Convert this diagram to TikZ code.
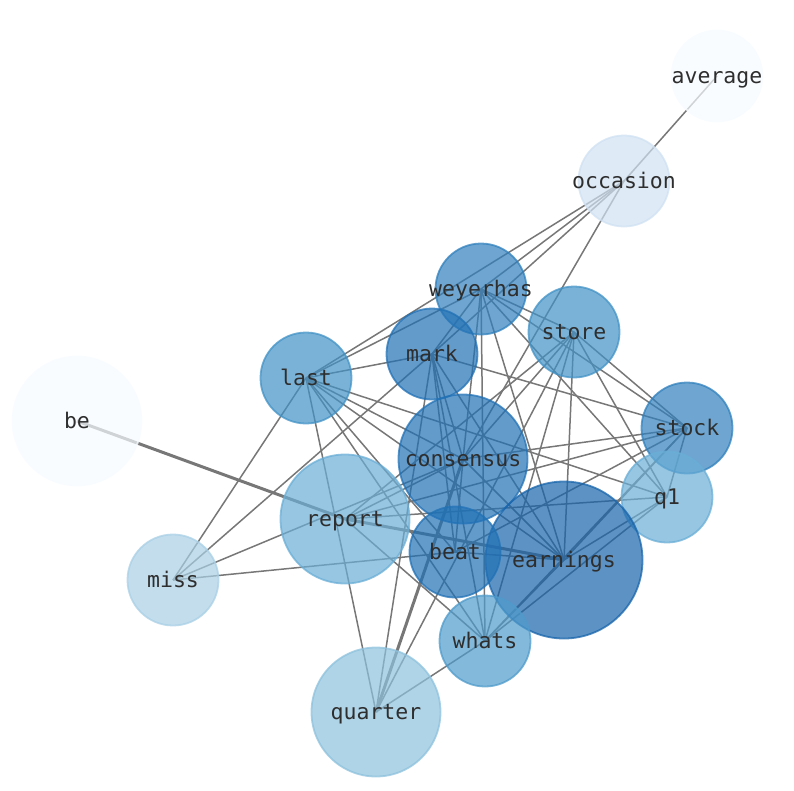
\documentclass[tikz,border=0pt]{standalone}
\usepackage{fontspec}
\setmonofont{DejaVu Sans Mono}
\usetikzlibrary{backgrounds}
\definecolor{cPale}{HTML}{F7FBFF}
\definecolor{cIce}{HTML}{D0E1F2}
\definecolor{cSky}{HTML}{A9CFE5}
\definecolor{cLight}{HTML}{8DC1DD}
\definecolor{cSoft}{HTML}{6AAED6}
\definecolor{cMid}{HTML}{4F9BCB}
\definecolor{cBlue}{HTML}{4292C6}
\definecolor{cDeep}{HTML}{3080BD}
\definecolor{cDark}{HTML}{2171B5}
\definecolor{cNavy}{HTML}{1764AB}
\definecolor{cEdge}{HTML}{777777}
\definecolor{cText}{HTML}{2E2E2E}
\tikzset{
  word/.style={circle, draw=#1, fill=#1, fill opacity=0.7, draw opacity=0.75,
               line width=1.8pt, inner sep=0pt},
  wlabel/.style={text=cText, text opacity=1, inner sep=0pt, text height=16pt,
                 text depth=5pt, yshift=-1.5pt, font=\ttfamily\fontsize{21.5}{24}\selectfont},
  nsmall/.style={minimum size=91pt},
  nmid/.style={minimum size=129pt},
  nbig/.style={minimum size=157pt},
  link/.style={draw=cEdge, line width=1.5pt},
  heavy/.style={draw=cEdge, line width=3pt},
}

\begin{document}
\begin{tikzpicture}[x=1pt, y=-1pt]
  \useasboundingbox (0,0) rectangle (794,790);
  % word nodes
  \node[word=cPale, nsmall, label={[wlabel]center:average}] (average) at (717,76) {};
  \node[word=cIce, nsmall, label={[wlabel]center:occasion}] (occasion) at (624,181) {};
  \node[word=cDeep, nsmall, label={[wlabel]center:weyerhas}] (weyerhas) at (481,289) {};
  \node[word=cBlue, nsmall, label={[wlabel]center:store}] (store) at (574,332) {};
  \node[word=cDark, nsmall, label={[wlabel]center:mark}] (mark) at (432,354) {};
  \node[word=cBlue, nsmall, label={[wlabel]center:last}] (last) at (306,378) {};
  \node[word=cPale, nmid, label={[wlabel]center:be}] (be) at (77,421) {};
  \node[word=cDeep, nsmall, label={[wlabel]center:stock}] (stock) at (687,428) {};
  \node[word=cDark, nmid, label={[wlabel]center:consensus}] (consensus) at (463,459) {};
  \node[word=cSoft, nsmall, label={[wlabel]center:q1}] (q1) at (667,497) {};
  \node[word=cSoft, nmid, label={[wlabel]center:report}] (report) at (345,519) {};
  \node[word=cNavy, nbig, label={[wlabel]center:earnings}] (earnings) at (564,560) {};
  \node[word=cDark, nsmall, label={[wlabel]center:beat}] (beat) at (455,552) {};
  \node[word=cSky, nsmall, label={[wlabel]center:miss}] (miss) at (173,580) {};
  \node[word=cMid, nsmall, label={[wlabel]center:whats}] (whats) at (485,641) {};
  \node[word=cLight, nmid, label={[wlabel]center:quarter}] (quarter) at (376,712) {};
  % co-occurrence links, under the nodes
  \begin{scope}[on background layer]
    \draw[heavy] (be.center)--(report.center);
    \draw[heavy] (report.center)--(earnings.center);
    \draw[heavy] (quarter.center)--(consensus.center);
    \foreach \a/\b in {average/occasion, occasion/last, occasion/weyerhas, occasion/mark,
        occasion/consensus, miss/last, miss/mark, miss/consensus, miss/beat,
        last/weyerhas, last/mark, last/consensus, last/earnings, last/beat, last/whats,
        last/quarter, last/q1, weyerhas/mark, weyerhas/store, weyerhas/stock,
        weyerhas/q1, weyerhas/consensus, weyerhas/earnings, weyerhas/whats,
        mark/stock, mark/consensus, mark/beat, mark/earnings, mark/whats, mark/quarter,
        store/stock, store/q1, store/report, store/consensus, store/whats,
        store/earnings, store/quarter, stock/consensus, stock/report, stock/beat,
        stock/q1, stock/earnings, stock/whats, q1/report, q1/earnings, q1/whats,
        consensus/report, consensus/earnings, consensus/beat, beat/earnings,
        report/whats, quarter/whats, earnings/whats}
      \draw[link] (\a.center)--(\b.center);
  \end{scope}
\end{tikzpicture}
\end{document}
